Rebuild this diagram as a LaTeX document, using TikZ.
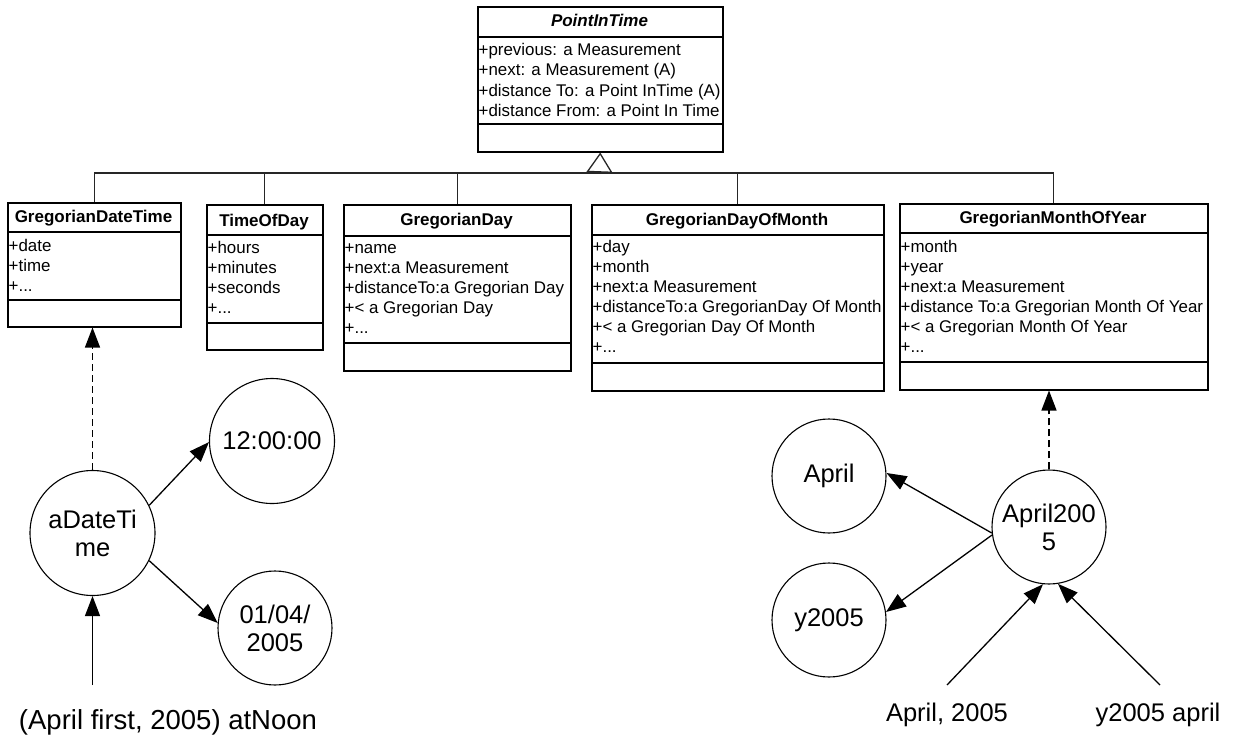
\documentclass[tikz,border=0pt]{standalone}
\usepackage{fontspec}
\setmainfont{Liberation Sans}
\usetikzlibrary{arrows.meta}

% class box: name, left, right, top, title rule, attribute rule, bottom, title baseline, title
\newcommand\umlclass[9]{%
  \node[classbox, minimum width={#3-#2}, minimum height={#7-#4}] (#1) at (#2,#4) {};
  \draw[sepline] (#2,#5) -- (#3,#5);
  \draw[sepline] (#2,#6) -- (#3,#6);
  \node[ctitle] (#1-title) at ({(#2+#3)/2},#8) {#9};
}
% attribute rows: name, x, first baseline, row step, rows
\newcommand\umlrows[5]{%
  \foreach \txt [count=\i from 0] in {#5} {
    \node[attr] (#1-row\i) at (#2,{#3+#4*\i}) {\txt};
  }
}
% the "more attributes" row
\newcommand\etcrow{+.{}.{}.}

\begin{document}
\begin{tikzpicture}[x=1pt, y=-1pt,
  classbox/.style={draw, line width=1.5pt, inner sep=0pt, anchor=north west},
  sepline/.style={line width=1.3pt},
  ctitle/.style={font=\fontsize{17}{20}\selectfont\bfseries, inner sep=0pt, anchor=base},
  attr/.style={font=\fontsize{16.9}{20}\selectfont, inner sep=0pt, anchor=base west},
  tree/.style={line width=1.3pt, black!85},
  obj/.style={circle, draw, line width=1.1pt, inner sep=0pt, align=center,
    font=\fontsize{25.5}{28}\selectfont},
  link/.style={line width=1.3pt, -{Triangle[length=20pt,width=15pt]}},
  realize/.style={link, dash pattern=on 7pt off 4pt},
  lbl/.style={font=\fontsize{25.5}{28}\selectfont, inner sep=0pt}]
\useasboundingbox (0,0) rectangle (1236,739);

% ---------- classes ----------
\umlclass{pit}{477}{722}{6}{37}{124}{151}{26}{\itshape PointInTime}
\umlrows{pit}{478.5}{55}{20.5}{+previous: a Measurement,+next: a Measurement (A),+distance To: a Point InTime (A),+distance From: a Point In Time}

\umlclass{gdt}{7}{180}{202}{232}{300}{326}{222}{GregorianDateTime}
\umlrows{gdt}{8.5}{251}{20}{+date,+time,\etcrow}

\umlclass{tod}{206}{322}{204}{235}{323}{349}{226}{TimeOfDay}
\umlrows{tod}{207.5}{253}{20}{+hours,+minutes,+seconds,\etcrow}

\umlclass{gd}{343}{570}{204}{236}{343}{370}{225}{GregorianDay}
\umlrows{gd}{344.5}{253}{20}{+name,+next:a Measurement,+distanceTo:a Gregorian Day,+< a Gregorian Day,\etcrow}

\umlclass{gdom}{591}{883}{204}{235}{363}{390}{225}{GregorianDayOfMonth}
\umlrows{gdom}{592.5}{252}{20}{+day,+month,+next:a  Measurement,+distanceTo:a GregorianDay Of Month,+< a Gregorian  Day Of Month,\etcrow}

\umlclass{gmoy}{899}{1207}{203}{233}{362}{389}{223}{GregorianMonthOfYear}
\umlrows{gmoy}{900.5}{252}{20}{+month,+year,+next:a Measurement,+distance To:a Gregorian Month Of Year,+< a Gregorian Month Of Year,\etcrow}

% ---------- generalisation tree ----------
\coordinate (hub) at (599.5,173);
\draw[tree, -{Triangle[open, length=20pt, width=26pt, line width=1.3pt]}] (hub) -- (pit.south);
\draw[tree] (gdt.north) |- (hub) -| (gmoy.north);
\draw[tree] (tod.north) -- (tod.north |- hub);
\draw[tree] (gd.north) -- (gd.north |- hub);
\draw[tree] (gdom.north) -- (gdom.north |- hub);

% ---------- objects, left ----------
\node[obj, minimum size=125pt] (adt) at (92.5,533) {aDateTi\\me};
\node[obj, minimum size=125pt] (t12) at (272,441) {12:00:00};
\node[obj, minimum size=114pt] (d0104) at (275,628) {01/04/\\2005};
\node[lbl, font=\fontsize{27.5}{30}\selectfont] (noon) at (168,722) {(April first, 2005) atNoon};
\coordinate (noonfoot) at (92.5,685);

\draw[realize] (adt.north) -- (adt.north |- gdt.south);
\draw[link] (adt.26) -- (t12.181);
\draw[link] (adt.-26) -- (d0104.175);
\draw[link] (noonfoot) -- (adt.south);

% ---------- objects, right ----------
\node[obj, minimum size=114pt] (april) at (829,476) {April};
\node[obj, minimum size=114pt] (y2005) at (829,620) {y2005};
\node[obj, minimum size=114pt] (a2005) at (1049,527) {April200\\5};
\node[lbl] (l1) at (947,715) {April, 2005};
\node[lbl] (l2) at (1158,715) {y2005 april};
\coordinate (l1foot) at (947,685);
\coordinate (l2foot) at (1160,685);

\draw[realize] (a2005.north) -- (a2005.north |- gmoy.south);
\draw[link] (a2005.186) -- (april.3);
\draw[link] (a2005.188) -- (y2005.8);
\draw[link] (l1foot) -- (a2005.264);
\draw[link] (l2foot) -- (a2005.279);
\end{tikzpicture}
\end{document}
